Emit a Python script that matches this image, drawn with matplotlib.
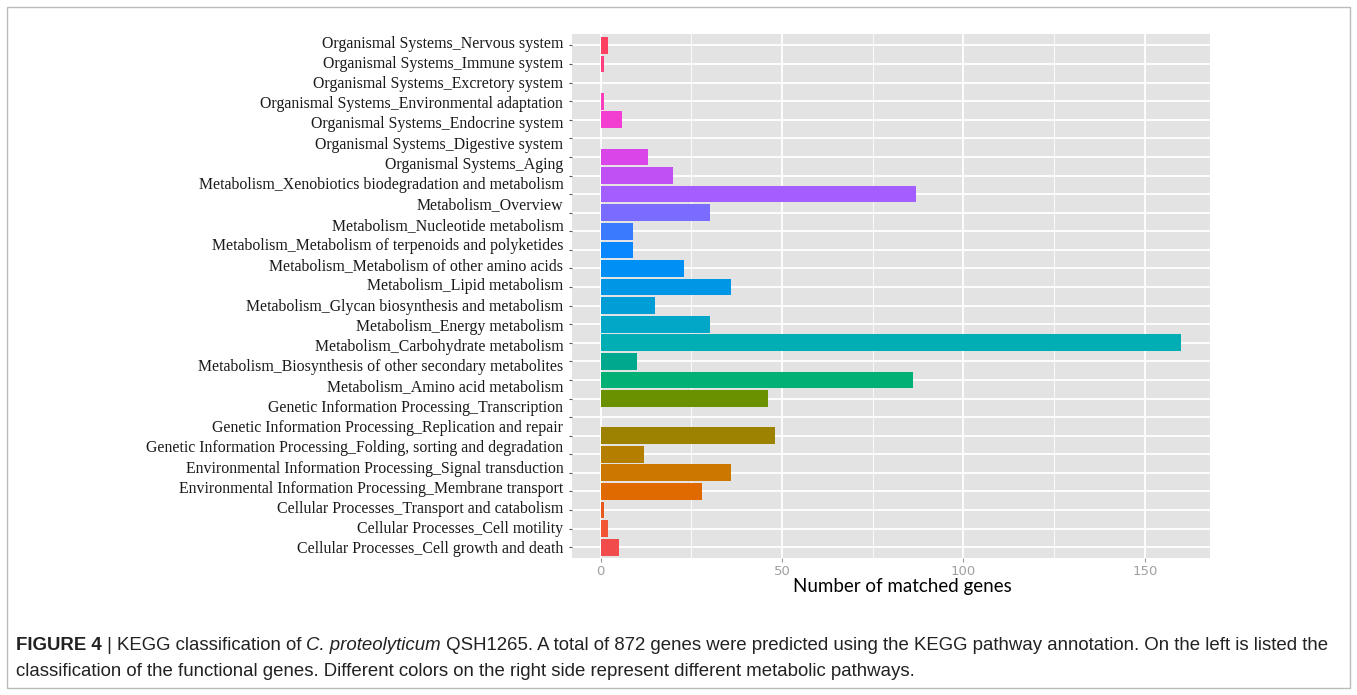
import numpy as np
import matplotlib
matplotlib.use("Agg")
import matplotlib.pyplot as plt
from matplotlib import font_manager
from matplotlib.patches import Rectangle

# bar values, listed top to bottom (the plotted panel has 28 slots)
bar_values = [2, 1, 0, 1, 6, 0, 13, 20, 87, 30, 9, 9, 23, 36, 15, 30,
              160, 10, 86, 46, 0, 48, 12, 36, 28, 1, 2, 5]

# category labels, listed top to bottom
labels = [
    "Organismal Systems_Nervous system",
    "Organismal Systems_Immune system",
    "Organismal Systems_Excretory system",
    "Organismal Systems_Environmental adaptation",
    "Organismal Systems_Endocrine system",
    "Organismal Systems_Digestive system",
    "Organismal Systems_Aging",
    "Metabolism_Xenobiotics biodegradation and metabolism",
    "Metabolism_Overview",
    "Metabolism_Nucleotide metabolism",
    "Metabolism_Metabolism of terpenoids and polyketides",
    "Metabolism_Metabolism of other amino acids",
    "Metabolism_Lipid metabolism",
    "Metabolism_Glycan biosynthesis and metabolism",
    "Metabolism_Energy metabolism",
    "Metabolism_Carbohydrate metabolism",
    "Metabolism_Biosynthesis of other secondary metabolites",
    "Metabolism_Amino acid metabolism",
    "Genetic Information Processing_Transcription",
    "Genetic Information Processing_Replication and repair",
    "Genetic Information Processing_Folding, sorting and degradation",
    "Environmental Information Processing_Signal transduction",
    "Environmental Information Processing_Membrane transport",
    "Cellular Processes_Transport and catabolism",
    "Cellular Processes_Cell motility",
    "Cellular Processes_Cell growth and death",
]

x_ticks = [0, 50, 100, 150]

# fill colours, bottom to top
bar_colors = [
    "#F24B4B", "#F25535", "#EA5A1E", "#E06A00", "#CC7700", "#B47F00",
    "#9C8200", "#848800", "#6A9100", "#00B074", "#00A98E", "#00AEB4",
    "#00A7C6", "#009DD6", "#0096E6", "#008FF4", "#0A86FF", "#3A7AFF",
    "#7A6CFF", "#A45EFF", "#C150F4", "#DA45EA", "#E840DE", "#F23FD2",
    "#FA3EBE", "#FF3EA0", "#FF3E80", "#FF4060",
]


def pick_font(names):
    for nm in names:
        try:
            font_manager.findfont(nm, fallback_to_default=False)
            return nm
        except Exception:
            pass
    return "DejaVu Sans"


serif = pick_font(["Liberation Serif", "DejaVu Serif"])
cap_font = pick_font(["Liberation Sans Narrow", "Liberation Sans"])
axis_font = pick_font(["Lato", "Open Sans"])

vals = bar_values[::-1]
n = len(vals)
pos = np.arange(n)

fig = plt.figure(figsize=(13.57, 6.95), dpi=100)
ax = fig.add_axes([0.4213, 0.1967, 0.4704, 0.7539])
ax.set_facecolor("#E3E3E3")
ax.barh(pos, vals, height=0.9, color=bar_colors, zorder=3)
ax.set_xlim(-8, 168)
ax.set_ylim(-0.6, n - 0.4)
ax.set_yticks(pos)
ax.set_yticklabels([])
ax.set_xticks(x_ticks)
ax.set_xticks([25, 75, 125], minor=True)
ax.grid(True, which="major", color="white", lw=1.3, zorder=1)
ax.grid(True, which="minor", axis="x", color="white", lw=0.6, zorder=1)
ax.tick_params(axis="y", length=2.5, width=0.8, color="#555555", pad=1)
ax.tick_params(axis="x", which="major", length=3, width=0.8, color="#999999",
               labelcolor="#A0A0A0", labelsize=9.5, pad=2)
ax.tick_params(axis="x", which="minor", length=0)
for s in ax.spines.values():
    s.set_visible(False)
ax.set_xlabel("Number of matched genes", fontsize=13.5, family=axis_font)
ax.xaxis.label.set_va("center")
ax.xaxis.set_label_coords(0.5175, -0.053)

# pasted label column uses its own spacing
ax2 = ax.twinx()
ax2.yaxis.tick_left()
lab = labels[::-1]
ax2.set_ylim(-0.534, len(lab) - 1 + 0.356)
ax2.set_yticks(np.arange(len(lab)))
ax2.set_yticklabels(lab, family=serif, fontsize=11.4, color="#1a1a1a")
ax2.tick_params(axis="y", length=0, pad=6)
ax2.set_xlim(ax.get_xlim())
for s in ax2.spines.values():
    s.set_visible(False)
ax2.patch.set_visible(False)

# outer frame
fig.patches.append(Rectangle((7 / 1357, 7 / 695), 1343 / 1357, 681 / 695,
                             transform=fig.transFigure, fill=False,
                             edgecolor="#BBBBBB", lw=1))

# caption with mixed styles
renderer = fig.canvas.get_renderer()


def runs(x, y, parts, size=13.45):
    for txt, weight, style in parts:
        t = fig.text(x, y, txt, fontsize=size, family=cap_font, weight=weight,
                     style=style, color="#222222", va="baseline", ha="left")
        bb = t.get_window_extent(renderer=renderer)
        x += bb.width / fig.bbox.width
    return x


runs(16 / 1357, 1 - 650 / 695, [
    ("FIGURE 4", "bold", "normal"),
    (" | ", "normal", "normal"),
    ("KEGG classification of ", "normal", "normal"),
    ("C. proteolyticum", "normal", "italic"),
    (" QSH1265. A total of 872 genes were predicted using the KEGG pathway annotation. "
     "On the left is listed the", "normal", "normal"),
])
runs(16 / 1357, 1 - 676 / 695, [
    ("classification of the functional genes. Different colors on the right side "
     "represent different metabolic pathways.", "normal", "normal"),
])

fig.savefig("out.png", dpi=100)
